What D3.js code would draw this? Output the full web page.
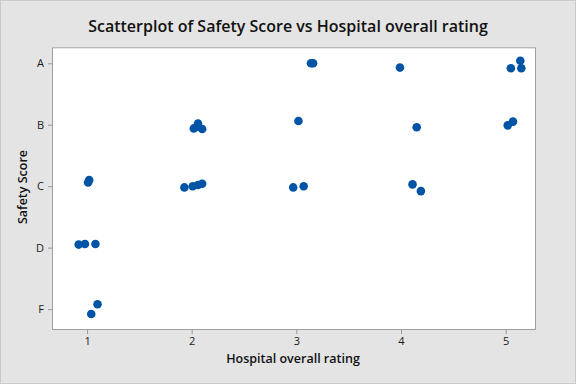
<!DOCTYPE html>
<html>
<head>
<meta charset="utf-8">
<title>Scatterplot of Safety Score vs Hospital overall rating</title>
<script src="https://d3js.org/d3.v7.min.js"></script>
<style>
    body { margin: 0; background: #ffffff; }
    svg { display: block; }
</style>
</head>
<body>
<svg id="chart" width="576" height="384"></svg>
<script>
    // jittered points
    var rating = [1.02, 1.01, 0.92, 0.98, 1.08, 1.10, 1.04,
                  2.02, 2.06, 2.10, 2.06, 1.93, 2.01, 2.06, 2.10,
                  3.02, 2.97, 3.07, 3.14, 3.16,
                  3.99, 4.15, 4.11, 4.19,
                  5.05, 5.14, 5.15, 5.02, 5.07];
    var safety = [3.10, 3.06, 2.05, 2.06, 2.06, 1.08, 0.92,
                  3.94, 4.02, 3.93, 3.97, 2.98, 3.00, 3.02, 3.04,
                  4.06, 2.98, 3.00, 5.00, 5.00,
                  4.93, 3.96, 3.03, 2.92,
                  4.92, 5.04, 4.92, 3.99, 4.05];
    var xTicks = [1, 2, 3, 4, 5];
    var yTicks = [1, 2, 3, 4, 5];
    var gradeLabels = ["F", "D", "C", "B", "A"];

    var svg = d3.select("#chart");
    var W = 576, H = 384;
    var plotL = 52, plotR = 536, plotT = 47.3, plotB = 330;

    svg.append("rect")
       .attr("x", 0.5).attr("y", 0.5)
       .attr("width", W - 1).attr("height", H - 1)
       .attr("fill", "#e4e4e4")
       .attr("stroke", "#c9c9c9");

    svg.append("rect")
       .attr("x", plotL).attr("y", plotT)
       .attr("width", plotR - plotL).attr("height", plotB - plotT)
       .attr("fill", "#ffffff");

    var x = d3.scaleLinear().domain([0.665, 5.29]).range([plotL, plotR]);
    var y = d3.scaleLinear().domain([0.66, 5.26]).range([plotB, plotT]);

    var xAxis = svg.append("g")
        .attr("transform", "translate(0," + plotB + ")")
        .call(d3.axisBottom(x).tickValues(xTicks).tickFormat(d3.format("d")).tickSizeInner(4).tickSizeOuter(0).tickPadding(3));

    var yAxis = svg.append("g")
        .attr("transform", "translate(" + plotL + ",0)")
        .call(d3.axisLeft(y).tickValues(yTicks)
              .tickFormat(function(d) { return gradeLabels[d - 1]; })
              .tickSizeInner(4).tickSizeOuter(0).tickPadding(4));

    [xAxis, yAxis].forEach(function(a) {
        a.select(".domain").remove();
        a.selectAll("line").attr("stroke", "#999999");
        a.selectAll("text")
         .attr("font-family", "'Open Sans', 'Noto Sans', sans-serif")
         .attr("font-size", "11px")
         .attr("fill", "#1a1a1a");
    });

    // frame
    svg.append("rect")
       .attr("x", plotL + 0.5).attr("y", plotT + 0.5)
       .attr("width", plotR - plotL - 1).attr("height", plotB - plotT - 1)
       .attr("fill", "none")
       .attr("stroke", "#a0a0a0");

    svg.append("g").selectAll("circle")
       .data(rating)
       .enter().append("circle")
       .attr("cx", function(d) { return x(d); })
       .attr("cy", function(d, i) { return y(safety[i]); })
       .attr("r", 4.3)
       .attr("fill", "#0054a6");

    svg.append("text")
       .attr("x", 288).attr("y", 32)
       .attr("text-anchor", "middle")
       .attr("font-family", "'Open Sans', 'Noto Sans', sans-serif")
       .attr("font-weight", 600)
       .attr("font-size", "16px")
       .attr("fill", "#111111")
       .text("Scatterplot of Safety Score vs Hospital overall rating");

    svg.append("text")
       .attr("x", 293).attr("y", 363)
       .attr("text-anchor", "middle")
       .attr("font-family", "'Open Sans', 'Noto Sans', sans-serif")
       .attr("font-weight", 600)
       .attr("font-size", "12.5px")
       .attr("fill", "#111111")
       .text("Hospital overall rating");

    svg.append("text")
       .attr("transform", "translate(27,187) rotate(-90)")
       .attr("text-anchor", "middle")
       .attr("font-family", "'Open Sans', 'Noto Sans', sans-serif")
       .attr("font-weight", 600)
       .attr("font-size", "12.5px")
       .attr("fill", "#111111")
       .text("Safety Score");
</script>
</body>
</html>
